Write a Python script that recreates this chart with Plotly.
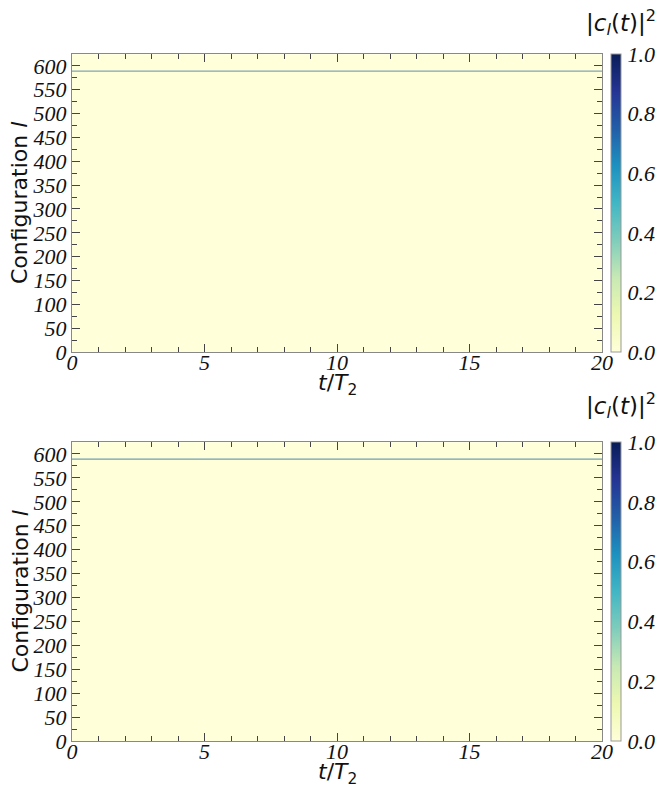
import numpy as np
import plotly.graph_objects as go
import plotly.express as px

# ---- data ----
times = [0, 1, 2, 3, 4, 5, 6, 7, 8, 9, 10, 11, 12, 13, 14, 15, 16, 17, 18, 19, 20]
n_configs = 625
initial_config = 589
# occupation of the initial configuration over time (panel 1 and panel 2)
occ_top = [1.0, 0.99, 0.99, 0.99, 0.99, 0.99, 0.99, 0.99, 0.99, 0.99, 0.99,
           0.99, 0.99, 0.99, 0.99, 0.99, 0.99, 0.99, 0.99, 0.99, 0.99]
occ_bot = [1.0, 1.0, 1.0, 1.0, 1.0, 1.0, 1.0, 1.0, 1.0, 1.0, 1.0,
           1.0, 1.0, 1.0, 1.0, 1.0, 1.0, 1.0, 1.0, 1.0, 1.0]
x_tickvals = [0, 5, 10, 15, 20]
y_tickvals = [0, 50, 100, 150, 200, 250, 300, 350, 400, 450, 500, 550, 600]
cb_tickvals = [0.0, 0.2, 0.4, 0.6, 0.8, 1.0]
cb_ticktext = ["0.0", "0.2", "0.4", "0.6", "0.8", "1.0"]

configs = list(range(n_configs))
cscale = px.colors.sequential.YlGnBu


def make_z(occ):
    z = np.zeros((n_configs, len(times)))
    z[initial_config, :] = occ
    return z


W, H = 660, 788
tick_font = dict(family="Liberation Serif", size=22, color="#111", style="italic")
title_font = dict(family="DejaVu Sans", size=22, color="#111")

panels = [
    dict(occ=occ_top, top=54, bottom=352, cbt=23, xa="x", ya="y",
         linecolor="rgb(130,165,178)"),
    dict(occ=occ_bot, top=442, bottom=741, cbt=405, xa="x2", ya="y2",
         linecolor="rgb(110,160,180)"),
]

fig = go.Figure()
x0, x1 = 72 / W, 602 / W

for i, p in enumerate(panels):
    ytop = 1 - p["top"] / H
    ybot = 1 - p["bottom"] / H
    fig.add_trace(go.Heatmap(
        x=times, y=configs, z=make_z(p["occ"]),
        xaxis=p["xa"], yaxis=p["ya"],
        colorscale=cscale, zmin=0, zmax=1, zsmooth=False,
        colorbar=dict(
            x=611 / W, xanchor="left", xpad=0, ypad=0,
            y=ybot, yanchor="bottom", yref="paper",
            len=ytop - ybot, lenmode="fraction",
            thickness=10, outlinewidth=1, outlinecolor="#999",
            tickvals=cb_tickvals, ticktext=cb_ticktext,
            ticks="outside", ticklen=2, tickcolor="rgba(0,0,0,0)",
            tickfont=tick_font,
        ),
    ))
    # the occupied (initial) configuration, a sub-pixel row of the map
    fig.add_trace(go.Scatter(
        x=times, y=[initial_config] * len(times),
        xaxis=p["xa"], yaxis=p["ya"], mode="lines",
        line=dict(color=p["linecolor"], width=1.2),
        hoverinfo="skip", showlegend=False,
    ))
    sfx = "" if i == 0 else "2"
    common = dict(
        ticks="inside", mirror="ticks", showline=True, linecolor="#888",
        linewidth=1.2, tickcolor="#444", ticklen=8, tickwidth=1,
        tickfont=tick_font, showgrid=False, zeroline=False, automargin=False,
    )
    fig.update_layout(**{
        "xaxis" + sfx: dict(
            domain=[x0, x1], anchor="y" + sfx, range=[0, 20],
            tickvals=x_tickvals, ticklabelstandoff=-10,
            minor=dict(dtick=1, ticks="inside", ticklen=5, tickcolor="#444"),
            **common,
        ),
        "yaxis" + sfx: dict(
            domain=[ybot, ytop], anchor="x" + sfx, range=[0, 625],
            tickvals=y_tickvals, ticklabelstandoff=0,
            minor=dict(dtick=25, ticks="inside", ticklen=5, tickcolor="#444"),
            **common,
        ),
    })
    # x axis title
    fig.add_annotation(
        text="<i>t</i>/<i>T</i><sub>2</sub>",
        xref="paper", yref="paper", x=(x0 + x1) / 2, xanchor="center",
        y=1 - (p["bottom"] + 32) / H, yanchor="middle",
        showarrow=False, font=dict(family="DejaVu Sans", size=22, color="#111"),
    )
    # y axis title
    fig.add_annotation(
        text="Configuration <i>l</i>", textangle=-90,
        xref="paper", yref="paper", x=20 / W, xanchor="center",
        y=1 - (p["top"] + p["bottom"]) / 2 / H, yanchor="middle",
        showarrow=False, font=title_font,
    )
    # colorbar title
    fig.add_annotation(
        text="|<i>c<sub>l</sub></i>(<i>t</i>)|<sup>2</sup>",
        xref="paper", yref="paper", x=658 / W, xanchor="right",
        y=1 - p["cbt"] / H, yanchor="middle",
        showarrow=False, font=dict(family="DejaVu Sans", size=23, color="#111"),
    )

fig.update_layout(
    width=W, height=H, margin=dict(l=0, r=0, t=0, b=0, autoexpand=False),
    paper_bgcolor="white", plot_bgcolor="white", showlegend=False,
)
fig.write_html("out.html", config={"displayModeBar": False},
               post_script="document.body.style.margin='0px';document.body.style.padding='0px';")
